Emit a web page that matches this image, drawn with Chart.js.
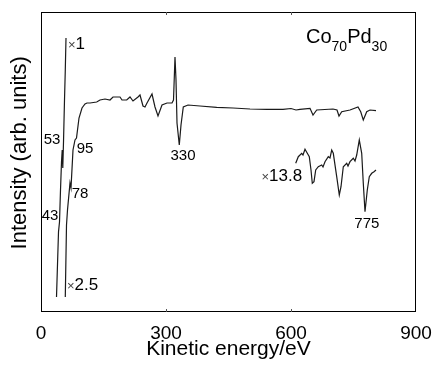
<!DOCTYPE html>
<html>
<head>
<meta charset="utf-8">
<script src="https://cdn.jsdelivr.net/npm/chart.js@4/dist/chart.umd.min.js"></script>
<style>
html,body{margin:0;padding:0;background:#fff;}
#wrap{width:433px;height:365px;}
</style>
</head>
<body>
<div id="wrap"><canvas id="c" width="433" height="365"></canvas></div>
<script>
// ---- data (kinetic energy in eV, intensity in arbitrary units) ----
const xTicks = [0, 300, 600, 900];

// low-energy segment (x2.5)
const lowE = [37.2, 42, 44.4, 46.8, 49.2, 50.9, 52.3, 54, 56.4, 58.3, 60];
const lowI = [15, 80, 90, 122, 150, 162, 144, 170, 212, 242, 274];

// main spectrum (x1)
const mainE = [58.3, 61.2, 63.6, 69.6, 72, 76.8, 81.6, 85.2, 91.2, 98.4, 105.6, 110.4,
  117.6, 133.7, 141.6, 153.6, 165.6, 172.8, 189.6, 194.4, 205.7, 213.6, 220.8, 232.8,
  237.6, 244.8, 249.6, 254.4, 266.4, 273.6, 280.8, 290.4, 302.4, 314.4, 318, 321.6,
  324, 326.4, 331.9, 336, 341.5, 352.8, 381.6, 421.7, 460.8, 501.6, 541.7, 580.8,
  600, 612, 621.6, 645.6, 652.8, 661.7, 700.8, 710.4, 715.2, 721.7, 741.6, 760.8,
  767.3, 773.5, 781.7, 789.6, 804];
const mainI = [15, 87, 102, 129, 124, 162, 172, 174, 194, 204, 208, 209,
  209, 210, 212, 213, 212, 215, 215, 212, 212, 215, 211, 215,
  217, 206, 205, 209, 218, 205, 196, 207, 209, 209, 212, 255,
  232, 189, 167, 187, 205, 207, 206, 204.7, 204, 203, 202.7, 202.7,
  203.5, 202, 202.7, 203.7, 197, 202, 203, 202, 196, 200.3, 202, 205,
  200.3, 192, 200.3, 202, 201.3];

// magnified high-energy part (x13.8)
const insetE = [611.3, 617.5, 625.7, 628.8, 633.6, 639.1, 643.9, 648, 651.1, 655.2, 659.3,
  665.5, 673.7, 676.8, 681.6, 689.5, 693.6, 697.7, 701.5, 709.7, 715.9, 720, 725.5,
  733.7, 736.8, 741.6, 749.5, 753.6, 757.7, 763.9, 769.7, 773.5, 777.6, 783.1, 787.9,
  793.7, 799.2, 804];
const insetI = [148.7, 155.3, 158.7, 157, 162.7, 158.7, 155.3, 142, 128.7, 130.3, 142,
  145.3, 147, 145, 150.3, 155.3, 154, 162, 158.7, 135.3, 117, 125.3, 145.3,
  148.7, 146, 150.3, 153.7, 151, 157, 172, 158.7, 128.7, 100.3, 122, 135.3,
  138.7, 140.3, 142];

// annotation labels anchored in data space
const noteText = ['\u00d71', '\u00d72.5', '53', '43', '78', '95', '330', '\u00d713.8', '775'];
const noteE    = [64.8, 62.4, 26.4, 21.6, 93.6, 105.6, 340.8, 578, 782];
const noteI    = [268, 27, 172, 96, 118, 163, 156, 136, 88];

const FONT = "'Liberation Sans', Arial, Helvetica, sans-serif";
const toXY = (E, I) => E.map((e, i) => ({x: e, y: I[i]}));

const overlay = {
  id: 'overlay',
  afterDraw(chart) {
    const {ctx, chartArea: a, scales: {x, y}} = chart;
    ctx.save();
    // frame
    ctx.strokeStyle = '#000';
    ctx.lineWidth = 1;
    ctx.strokeRect(a.left + 0.5, a.top + 0.5, a.right - a.left - 1, a.bottom - a.top - 1);
    // inward ticks
    ctx.strokeStyle = '#555';
    xTicks.slice(1, -1).forEach(v => {
      const px = Math.round(x.getPixelForValue(v)) + 0.5;
      ctx.beginPath();
      ctx.moveTo(px, a.bottom); ctx.lineTo(px, a.bottom - 3);
      ctx.moveTo(px, a.top); ctx.lineTo(px, a.top + 3);
      ctx.stroke();
    });
    // notes
    ctx.fillStyle = '#000';
    ctx.textBaseline = 'middle';
    noteText.forEach((t, i) => {
      const px = x.getPixelForValue(noteE[i]);
      const py = y.getPixelForValue(noteI[i]);
      if (t.startsWith('\u00d7')) {
        ctx.textAlign = 'left';
        const big = 17;
        ctx.font = '13px ' + FONT;
        const w = ctx.measureText('\u00d7').width;
        let sx = px;
        if (t === '\u00d713.8') {
          ctx.font = big + 'px ' + FONT;
          const tw = ctx.measureText(t.slice(1)).width + w;
          sx = px - tw / 2;
        }
        ctx.font = '13px ' + FONT;
        ctx.fillStyle = '#444';
        ctx.fillText('\u00d7', sx, py + 1);
        ctx.fillStyle = '#000';
        ctx.font = big + 'px ' + FONT;
        ctx.fillText(t.slice(1), sx + w, py);
      } else {
        ctx.textAlign = 'center';
        ctx.font = '15px ' + FONT;
        ctx.fillText(t, px, py);
      }
    });
    // sample name with subscripts
    ctx.textAlign = 'left';
    ctx.textBaseline = 'alphabetic';
    let sx = x.getPixelForValue(636);
    const by = y.getPixelForValue(269);
    const parts = [['Co', 20, 0], ['70', 14, 8], ['Pd', 20, 0], ['30', 14, 8]];
    parts.forEach(([t, s, d]) => {
      ctx.font = s + 'px ' + FONT;
      ctx.fillText(t, sx, by + d);
      sx += ctx.measureText(t).width;
    });
    ctx.restore();
  }
};

const lineStyle = {borderColor: '#1a1a1a', borderWidth: 1.2, pointRadius: 0, tension: 0, fill: false};

new Chart(document.getElementById('c'), {
  type: 'line',
  data: {
    datasets: [
      Object.assign({label: 'x2.5', data: toXY(lowE, lowI)}, lineStyle),
      Object.assign({label: 'x1', data: toXY(mainE, mainI)}, lineStyle),
      Object.assign({label: 'x13.8', data: toXY(insetE, insetI)}, lineStyle)
    ]
  },
  options: {
    responsive: false,
    animation: false,
    devicePixelRatio: 1,
    layout: {padding: {top: 12, right: 17, left: 0, bottom: 0}},
    plugins: {legend: {display: false}, tooltip: {enabled: false}},
    scales: {
      x: {
        type: 'linear', min: 0, max: 900,
        afterBuildTicks: s => { s.ticks = xTicks.map(v => ({value: v})); },
        grid: {display: false, drawTicks: false},
        border: {display: false},
        ticks: {padding: 10, color: '#000', font: {family: FONT, size: 19}, maxRotation: 0},
        title: {display: true, text: 'Kinetic energy/eV', color: '#000',
                font: {family: FONT, size: 21}, padding: {top: 0, bottom: 3}},
        afterFit: s => { s.height = 53; s.paddingLeft = 0; s.paddingRight = 0; }
      },
      y: {
        type: 'linear', min: 0, max: 300,
        grid: {display: false, drawTicks: false},
        border: {display: false},
        ticks: {display: false},
        title: {display: true, text: '   Intensity (arb. units)', color: '#000',
                font: {family: FONT, size: 22}, padding: {top: 7, bottom: 0}},
        afterFit: s => { s.width = 41; s.paddingTop = 0; s.paddingBottom = 0; }
      }
    }
  },
  plugins: [overlay]
});
</script>
</body>
</html>
